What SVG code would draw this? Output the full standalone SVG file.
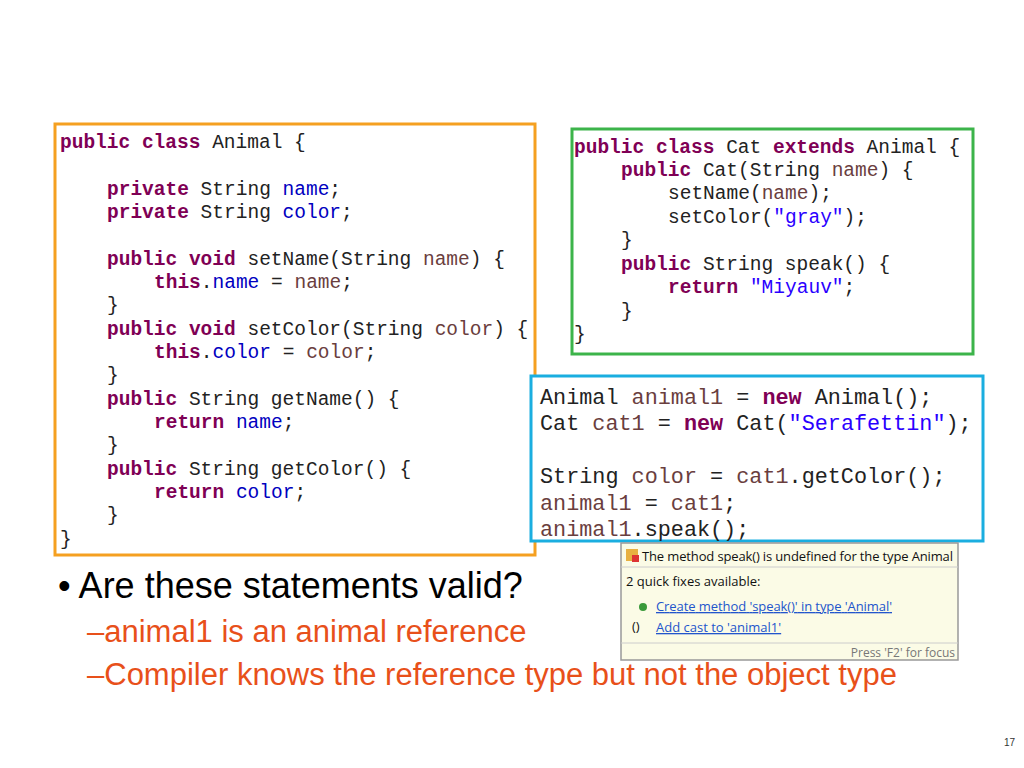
<svg xmlns="http://www.w3.org/2000/svg" width="1024" height="768" viewBox="0 0 1024 768">
<style>
.c{font-family:"Liberation Mono",monospace;font-size:19.5px;fill:#222;white-space:pre}
.b{font-family:"Liberation Mono",monospace;font-size:21.8px;fill:#222;white-space:pre}
.k{fill:#7f0055;font-weight:bold}
.f{fill:#0000c0}
.p{fill:#6a3e3e}
.s{fill:#2a00ff}
.v{fill:#6a3e3e}
.ui{font-family:"Open Sans","Liberation Sans",sans-serif;font-size:13px;fill:#111}
.ln{fill:#2255cc;text-decoration:underline}
.t{font-family:"Liberation Sans",Arial,sans-serif}
</style>
<rect width="1024" height="768" fill="#fff"/>
<g id="animal">
<rect x="55" y="124" width="480" height="431" fill="#fff" stroke="#f5a020" stroke-width="3"/>
<text class="c" x="60" y="148"><tspan class="k">public class</tspan> Animal {</text>
<text class="c" x="107" y="195"><tspan class="k">private</tspan> String <tspan class="f">name</tspan>;</text>
<text class="c" x="107" y="218"><tspan class="k">private</tspan> String <tspan class="f">color</tspan>;</text>
<text class="c" x="107" y="265"><tspan class="k">public void</tspan> setName(String <tspan class="p">name</tspan>) {</text>
<text class="c" x="154" y="288"><tspan class="k">this</tspan>.<tspan class="f">name</tspan> = <tspan class="p">name</tspan>;</text>
<text class="c" x="107" y="311">}</text>
<text class="c" x="107" y="335"><tspan class="k">public void</tspan> setColor(String <tspan class="p">color</tspan>) {</text>
<text class="c" x="154" y="358"><tspan class="k">this</tspan>.<tspan class="f">color</tspan> = <tspan class="p">color</tspan>;</text>
<text class="c" x="107" y="381">}</text>
<text class="c" x="107" y="405"><tspan class="k">public</tspan> String getName() {</text>
<text class="c" x="154" y="428"><tspan class="k">return</tspan> <tspan class="f">name</tspan>;</text>
<text class="c" x="107" y="451">}</text>
<text class="c" x="107" y="475"><tspan class="k">public</tspan> String getColor() {</text>
<text class="c" x="154" y="498"><tspan class="k">return</tspan> <tspan class="f">color</tspan>;</text>
<text class="c" x="107" y="521">}</text>
<text class="c" x="60" y="545">}</text>
</g>
<g id="cat">
<rect x="572" y="129" width="401" height="225" fill="#fff" stroke="#3cb44a" stroke-width="3"/>
<text class="c" x="574" y="153"><tspan class="k">public class</tspan> Cat <tspan class="k">extends</tspan> Animal {</text>
<text class="c" x="621" y="176"><tspan class="k">public</tspan> Cat(String <tspan class="p">name</tspan>) {</text>
<text class="c" x="668" y="199">setName(<tspan class="p">name</tspan>);</text>
<text class="c" x="668" y="223">setColor(<tspan class="s">"gray"</tspan>);</text>
<text class="c" x="621" y="246">}</text>
<text class="c" x="621" y="270"><tspan class="k">public</tspan> String speak() {</text>
<text class="c" x="668" y="293"><tspan class="k">return</tspan> <tspan class="s">"Miyauv"</tspan>;</text>
<text class="c" x="621" y="317">}</text>
<text class="c" x="574" y="340">}</text>
</g>
<g id="usage">
<rect x="531" y="376" width="452" height="165" fill="#fff" stroke="#1aaee0" stroke-width="3"/>
<text class="b" x="540" y="404">Animal <tspan class="v">animal1</tspan> = <tspan class="k">new</tspan> Animal();</text>
<text class="b" x="540" y="430">Cat <tspan class="v">cat1</tspan> = <tspan class="k">new</tspan> Cat(<tspan class="s">"Serafettin"</tspan>);</text>
<text class="b" x="540" y="483">String <tspan class="v">color</tspan> = <tspan class="v">cat1</tspan>.getColor();</text>
<text class="b" x="540" y="510"><tspan class="v">animal1</tspan> = <tspan class="v">cat1</tspan>;</text>
<text class="b" x="540" y="536"><tspan class="v">animal1</tspan>.speak();</text>
</g>
<g id="popup">
<rect x="621" y="543" width="337" height="117" fill="#fbfbe6" stroke="#999" stroke-width="1.5"/>
<line x1="621" y1="567" x2="958" y2="567" stroke="#ccc"/>
<line x1="621" y1="643" x2="958" y2="643" stroke="#ccc"/>
<rect x="626" y="549" width="12" height="12" fill="#e8b040"/>
<rect x="632" y="555" width="7" height="7" fill="#d33"/>
<text class="ui" x="642" y="561" textLength="311">The method speak() is undefined for the type Animal</text>
<text class="ui" x="626" y="586">2 quick fixes available:</text>
<circle cx="643" cy="607" r="4" fill="#3a9a3a"/>
<text class="ui ln" x="656" y="611" textLength="236">Create method 'speak()' in type 'Animal'</text>
<text class="ui" x="632" y="631" fill="#335">()</text>
<text class="ui ln" x="656" y="632">Add cast to 'animal1'</text>
<text class="ui" x="955" y="657" text-anchor="end" style="font-size:12px;fill:#777">Press 'F2' for focus</text>
</g>
<g id="bullets">
<text class="t" x="58" y="598" font-size="36" fill="#000">• Are these statements valid?</text>
<text class="t" x="87" y="642" font-size="31" fill="#e8501a">–animal1 is an animal reference</text>
<text class="t" x="87" y="685" font-size="31" fill="#e8501a">–Compiler knows the reference type but not the object type</text>
<text class="t" x="1015" y="746" font-size="10" fill="#333" text-anchor="end">17</text>
</g>
</svg>
